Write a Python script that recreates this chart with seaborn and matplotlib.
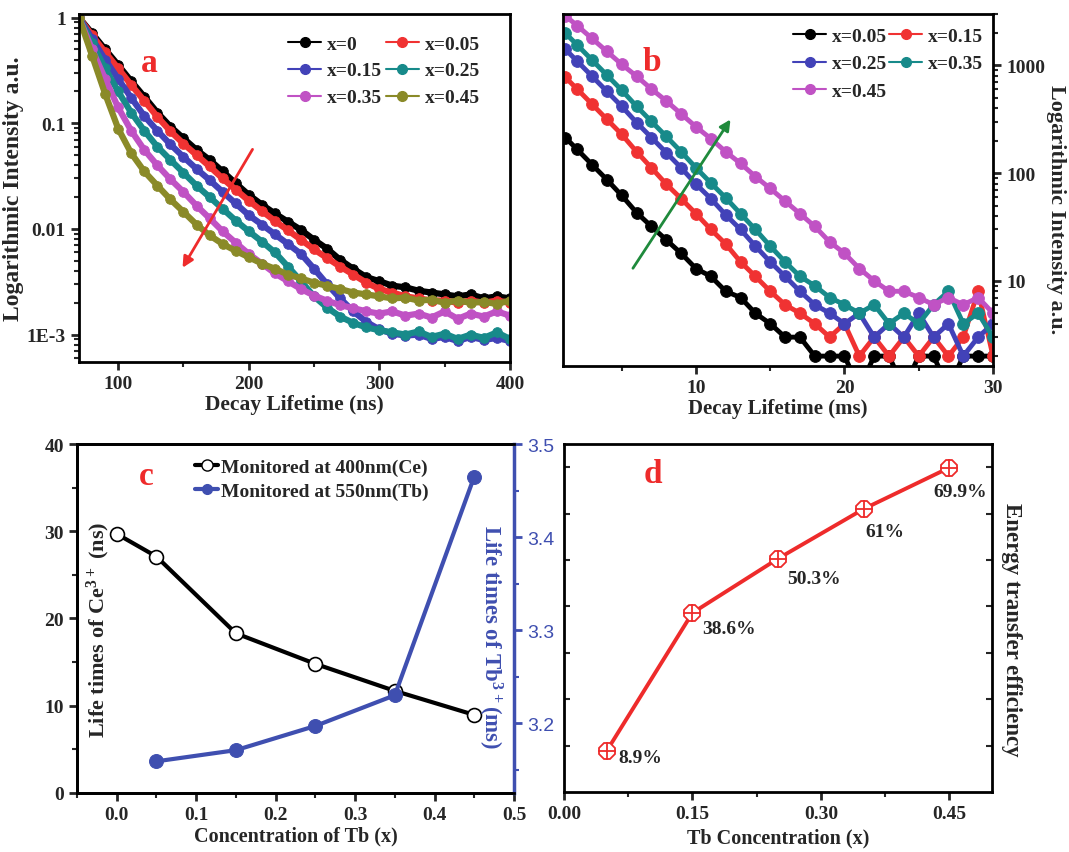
import numpy as np
import pandas as pd
import seaborn as sns
import matplotlib
matplotlib.use('Agg')
import matplotlib.pyplot as plt
from matplotlib.lines import Line2D
from matplotlib.ticker import (FixedLocator, FixedFormatter, MultipleLocator,
                               LogLocator, NullFormatter, FormatStrFormatter)

# ---------------- data ----------------
# (a) Ce3+ decay, ns
t_ns = [70, 80, 90, 100, 110, 120, 130, 140, 150, 160,
        170, 180, 190, 200, 210, 220, 230, 240, 250, 260,
        270, 280, 290, 300, 310, 320, 330, 340, 350, 360,
        370, 380, 390, 400]
a_x0 = [1.0, 0.71, 0.50, 0.355, 0.25, 0.178, 0.126, 0.093, 0.072, 0.056,
        0.045, 0.035, 0.027, 0.021, 0.017, 0.014, 0.0117, 0.0098, 0.0079, 0.0065,
        0.0051, 0.0042, 0.0035, 0.0032, 0.0029, 0.0028, 0.0026, 0.0025, 0.0024, 0.0023,
        0.0024, 0.0022, 0.0023, 0.0022]
a_x005 = [1.0, 0.68, 0.47, 0.33, 0.23, 0.163, 0.115, 0.084, 0.064, 0.05,
          0.039, 0.030, 0.0235, 0.0185, 0.0148, 0.0119, 0.0097, 0.0079, 0.0064, 0.0053,
          0.0044, 0.0037, 0.0031, 0.0027, 0.0025, 0.0023, 0.0022, 0.0021, 0.0021, 0.0020,
          0.0021, 0.0020, 0.0021, 0.0020]
a_x015 = [1.0, 0.63, 0.40, 0.263, 0.174, 0.117, 0.085, 0.063, 0.048, 0.037,
          0.029, 0.0224, 0.0174, 0.0135, 0.011, 0.0089, 0.0072, 0.0058, 0.0042, 0.0030,
          0.0022, 0.00166, 0.00132, 0.00112, 0.00102, 0.00098, 0.0010, 0.00091, 0.00095, 0.00087,
          0.00095, 0.00089, 0.00093, 0.00087]
a_x025 = [1.0, 0.575, 0.33, 0.20, 0.126, 0.085, 0.060, 0.045, 0.034, 0.0257,
          0.020, 0.0155, 0.012, 0.0095, 0.0076, 0.0060, 0.0044, 0.0032, 0.0023, 0.0018,
          0.00148, 0.00129, 0.00117, 0.0011, 0.00105, 0.0010, 0.00107, 0.00095, 0.00102, 0.00091,
          0.0010, 0.00093, 0.00105, 0.00091]
a_x035 = [1.0, 0.50, 0.263, 0.141, 0.085, 0.056, 0.040, 0.0295, 0.0224, 0.0166,
          0.0126, 0.0095, 0.0074, 0.0058, 0.0047, 0.0038, 0.0032, 0.0027, 0.00234, 0.00209,
          0.0019, 0.00178, 0.00166, 0.00158, 0.00166, 0.00151, 0.00158, 0.00145, 0.00166, 0.00141,
          0.00158, 0.00148, 0.00166, 0.00151]
a_x045 = [1.0, 0.437, 0.19, 0.089, 0.052, 0.035, 0.0257, 0.019, 0.0145, 0.011,
          0.0087, 0.0072, 0.0062, 0.0054, 0.0047, 0.0042, 0.0037, 0.0034, 0.0031, 0.0029,
          0.0027, 0.0025, 0.0024, 0.0023, 0.0022, 0.00224, 0.0021, 0.00214, 0.0020, 0.0021,
          0.0020, 0.00204, 0.00195, 0.0021]
labels_a = ['x=0', 'x=0.05', 'x=0.15', 'x=0.25', 'x=0.35', 'x=0.45']

# (b) Tb3+ decay, ms
t_ms = [1.2, 2, 3, 4, 5, 6, 7, 8, 9, 10, 11, 12, 13, 14, 15,
        16, 17, 18, 19, 20, 21, 22, 23, 24, 25, 26, 27, 28, 29, 30]
b_x005 = [214, 166, 120, 87, 62, 43, 32, 24, 18, 13, 11, 8, 7, 5, 4,
          3, 3, 2, 2, 2, 1, 2, 2, 1, 2, 2, 1, 2, 2, 2]
b_x015 = [776, 603, 437, 316, 229, 158, 112, 79, 58, 42, 30, 22, 15, 11, 8,
          6, 5, 4, 3, 4, 2, 3, 2, 3, 2, 3, 2, 3, 8, 2]
b_x025 = [1413, 1096, 794, 575, 417, 295, 214, 155, 112, 79, 58, 41, 30, 21, 15,
          11, 8, 6, 5, 4, 5, 3, 4, 3, 5, 3, 4, 2, 3, 4]
b_x035 = [1995, 1549, 1122, 813, 589, 417, 302, 219, 158, 112, 81, 59, 42, 30, 21,
          15, 11, 9, 7, 6, 5, 6, 4, 5, 4, 6, 8, 4, 5, 3]
b_x045 = [2884, 2344, 1778, 1349, 1023, 794, 603, 468, 355, 269, 209, 158, 123, 93, 72,
          55, 42, 32, 23, 18, 13, 10, 8, 8, 7, 6, 7, 6, 7, 5]
labels_b = ['x=0.05', 'x=0.15', 'x=0.25', 'x=0.35', 'x=0.45']

# (c) lifetimes
conc_ce = [0.0, 0.05, 0.15, 0.25, 0.35, 0.45]
life_ce = [29.7, 27.1, 18.3, 14.8, 11.7, 8.95]
conc_tb = [0.05, 0.15, 0.25, 0.35, 0.45]
life_tb = [3.159, 3.171, 3.197, 3.230, 3.465]

# (d) energy transfer efficiency
conc_d = [0.05, 0.15, 0.25, 0.35, 0.45]
eff_d = [8.9, 38.6, 50.3, 61.0, 69.9]
eff_text = ['8.9%', '38.6%', '50.3%', '61%', '69.9%']

# ---------------- style ----------------
sns.set_style('ticks')
plt.rcParams['font.family'] = ['Liberation Serif', 'DejaVu Serif']
plt.rcParams['font.weight'] = 'bold'
plt.rcParams['axes.labelweight'] = 'bold'
plt.rcParams['font.size'] = 14
plt.rcParams['axes.linewidth'] = 2
plt.rcParams['axes.edgecolor'] = 'black'
plt.rcParams['mathtext.fontset'] = 'custom'
plt.rcParams['mathtext.rm'] = 'Liberation Serif:bold'
plt.rcParams['mathtext.bf'] = 'Liberation Serif:bold'
plt.rcParams['mathtext.default'] = 'bf'

RED = '#ee2b2b'
BLUE = '#3f4fb0'
pal_a = ['black', '#f03232', '#4242b8', '#178a8a', '#c052c4', '#8a8a28']
pal_b = ['black', '#f03232', '#4242b8', '#178a8a', '#c052c4']


def style_ticks(ax):
    ax.tick_params(which='major', length=6, width=2, direction='out', labelsize=14)
    ax.tick_params(which='minor', length=3.5, width=1.5, direction='out')


fig = plt.figure(figsize=(10.69, 8.53), dpi=100)
ax_a = fig.add_axes([0.0739, 0.5744, 0.4031, 0.408])
ax_b = fig.add_axes([0.5267, 0.5698, 0.4022, 0.4126])
ax_c = fig.add_axes([0.072, 0.0692, 0.4088, 0.4091])
ax_d = fig.add_axes([0.5276, 0.0703, 0.4004, 0.408])

# ---------------- (a) ----------------
for vals, col in zip([a_x0, a_x005, a_x015, a_x025, a_x035, a_x045], pal_a):
    sns.lineplot(x=t_ns, y=vals, ax=ax_a, color=col, marker='o', markersize=7,
                 linewidth=4.5, markeredgecolor=col, markeredgewidth=0.6,
                 estimator=None, sort=False, legend=False)
ax_a.set_yscale('log')
ax_a.set_xlim(70, 400)
ax_a.set_ylim(5.5e-4, 1.08)
ax_a.yaxis.set_major_locator(FixedLocator([1e-3, 1e-2, 1e-1, 1]))
ax_a.yaxis.set_major_formatter(FixedFormatter(['1E-3', '0.01', '0.1', '1']))
ax_a.yaxis.set_minor_locator(LogLocator(base=10, subs=np.arange(2, 10)))
ax_a.yaxis.set_minor_formatter(NullFormatter())
ax_a.xaxis.set_major_locator(FixedLocator([100, 200, 300, 400]))
ax_a.xaxis.set_minor_locator(MultipleLocator(50))
style_ticks(ax_a)
ax_a.set_xlabel('Decay Lifetime (ns)', fontsize=15.5, labelpad=1)
ax_a.set_ylabel('Logarithmic Intensity a.u.', fontsize=17, labelpad=2)
h_a = [Line2D([], [], color=c, lw=1.5, marker='o', ms=7) for c in pal_a]
order = [0, 2, 4, 1, 3, 5]
ax_a.legend([h_a[i] for i in order], [labels_a[i] for i in order], ncol=2,
            frameon=False, loc='upper left', bbox_to_anchor=(0.485, 0.94),
            handlelength=1.7, handletextpad=0.3, columnspacing=0.2,
            labelspacing=0.48, borderpad=0, borderaxespad=0, fontsize=14)
ax_a.text(0.162, 0.862, 'a', transform=ax_a.transAxes, color=RED, fontsize=24,
          ha='center', va='center')
ax_a.annotate('', xy=(0.237, 0.264), xytext=(0.406, 0.618),
              xycoords='axes fraction', textcoords='axes fraction',
              arrowprops=dict(arrowstyle='-|>', color=RED, lw=2, mutation_scale=16))

# ---------------- (b) ----------------
for vals, col in zip([b_x005, b_x015, b_x025, b_x035, b_x045], pal_b):
    sns.lineplot(x=t_ms, y=vals, ax=ax_b, color=col, marker='o', markersize=8.5,
                 linewidth=3.5, markeredgecolor=col, markeredgewidth=0.6,
                 estimator=None, sort=False, legend=False)
ax_b.set_yscale('log')
ax_b.set_xlim(1.05, 30)
ax_b.set_ylim(1.62, 3000)
ax_b.yaxis.tick_right()
ax_b.yaxis.set_major_locator(FixedLocator([10, 100, 1000]))
ax_b.yaxis.set_major_formatter(FixedFormatter(['10', '100', '1000']))
ax_b.yaxis.set_minor_locator(LogLocator(base=10, subs=np.arange(2, 10)))
ax_b.yaxis.set_minor_formatter(NullFormatter())
ax_b.xaxis.set_major_locator(FixedLocator([10, 20, 30]))
ax_b.xaxis.set_minor_locator(MultipleLocator(5))
style_ticks(ax_b)
ax_b.set_xlabel('Decay Lifetime (ms)', fontsize=15, labelpad=1)
ax_b.set_ylabel('')
fig.text(0.988, 0.754, 'Logarithmic Intensity a.u.', rotation=270,
         ha='center', va='center', fontsize=16)
h_b = [Line2D([], [], color=c, lw=1.5, marker='o', ms=7) for c in pal_b]
order_b = [0, 2, 4, 1, 3]
ax_b.legend([h_b[i] for i in order_b], [labels_b[i] for i in order_b], ncol=2,
            frameon=False, loc='upper left', bbox_to_anchor=(0.535, 0.962),
            handlelength=1.7, handletextpad=0.3, columnspacing=0.1,
            labelspacing=0.5, borderpad=0, borderaxespad=0, fontsize=14)
ax_b.text(0.207, 0.866, 'b', transform=ax_b.transAxes, color=RED, fontsize=24,
          ha='center', va='center')
ax_b.annotate('', xy=(0.393, 0.707), xytext=(0.159, 0.271),
              xycoords='axes fraction', textcoords='axes fraction',
              arrowprops=dict(arrowstyle='-|>', color='#1f8a3c', lw=2, mutation_scale=16))

# ---------------- (c) ----------------
sns.lineplot(x=conc_ce, y=life_ce, ax=ax_c, color='black', linewidth=3, marker='o',
             markersize=10, markerfacecolor='white', markeredgecolor='black',
             markeredgewidth=1.2, estimator=None, sort=False, legend=False)
ax_c.set_xlim(-0.05, 0.5)
ax_c.set_ylim(0, 40)
ax_c.xaxis.set_major_locator(MultipleLocator(0.1))
ax_c.xaxis.set_major_formatter(FormatStrFormatter('%.1f'))
ax_c.xaxis.set_minor_locator(MultipleLocator(0.05))
ax_c.yaxis.set_major_locator(MultipleLocator(10))
ax_c.yaxis.set_minor_locator(MultipleLocator(5))
style_ticks(ax_c)
ax_c.tick_params(axis='y', which='both', right=False)
ax_c.set_xlabel('Concentration of Tb (x)', fontsize=14.5, labelpad=2)
ax_c.set_ylabel('')
ax_c.text(0.05, 0.47, 'Life times of Ce$^{3+}$ (ns)', transform=ax_c.transAxes,
          rotation=90, ha='center', va='center', fontsize=16)

ax_c2 = ax_c.twinx()
sns.lineplot(x=conc_tb, y=life_tb, ax=ax_c2, color=BLUE, linewidth=3, marker='o',
             markersize=10, markeredgecolor=BLUE, estimator=None, sort=False, legend=False)
ax_c2.set_ylim(3.125, 3.5)
ax_c2.set_yticks([3.2, 3.3, 3.4, 3.5])
ax_c2.set_yticklabels(['3.2', '3.3', '3.4', '3.5'], fontfamily='Liberation Sans',
                      fontweight='normal', color=BLUE, fontsize=14)
ax_c2.yaxis.set_minor_locator(MultipleLocator(0.05))
ax_c2.tick_params(which='major', length=6, width=2, direction='out', colors=BLUE)
ax_c2.tick_params(which='minor', length=3.5, width=1.5, direction='out', colors=BLUE)
ax_c2.spines['right'].set_color(BLUE)
ax_c2.spines['right'].set_linewidth(2.5)
ax_c2.set_ylabel('')
ax_c2.text(0.945, 0.45, 'Life times of Tb$^{3+}$(ms)', transform=ax_c2.transAxes,
           rotation=270, ha='center', va='center', fontsize=16.5, color=BLUE)
h_c = [Line2D([], [], color='black', lw=3, marker='o', ms=8, mfc='white', mec='black'),
       Line2D([], [], color=BLUE, lw=3, marker='o', ms=7, mec=BLUE)]
ax_c2.legend(h_c, ['Monitored at 400nm(Ce)', 'Monitored at 550nm(Tb)'],
             frameon=False, loc='upper left', bbox_to_anchor=(0.27, 0.958),
             handlelength=1.2, handletextpad=0.15, labelspacing=0.3,
             borderpad=0, borderaxespad=0, fontsize=14)
ax_c2.text(0.158, 0.91, 'c', transform=ax_c2.transAxes, color=RED, fontsize=24,
           ha='center', va='center')

# ---------------- (d) ----------------
sns.lineplot(x=conc_d, y=eff_d, ax=ax_d, color=RED, linewidth=2.8, marker='8',
             markersize=13, markerfacecolor='white', markeredgecolor=RED,
             markeredgewidth=1.3, estimator=None, sort=False, legend=False)
ax_d.plot(conc_d, eff_d, ls='none', marker='+', ms=13, mec=RED, mew=1.3)
offsets = [(24, -5), (26, -11), (26, -14), (15, -16), (8, -17)]
for xv, yv, txt, off in zip(conc_d, eff_d, eff_text, offsets):
    ax_d.annotate(txt, (xv, yv), xytext=off, textcoords='offset points',
                  ha='center', va='center', fontsize=14)
ax_d.set_xlim(0, 0.5)
ax_d.set_ylim(0, 75)
ax_d.xaxis.set_major_locator(FixedLocator([0.0, 0.15, 0.30, 0.45]))
ax_d.xaxis.set_major_formatter(FormatStrFormatter('%.2f'))
ax_d.xaxis.set_minor_locator(MultipleLocator(0.075))
ax_d.yaxis.set_major_locator(FixedLocator([10, 20, 30, 40, 50, 60, 70]))
style_ticks(ax_d)
ax_d.tick_params(axis='y', which='both', direction='in', left=True, right=True,
                 labelleft=False, length=4, width=1.5)
ax_d.set_xlabel('Tb Concentration (x)', fontsize=14.5, labelpad=4)
ax_d.set_ylabel('')
ax_d.text(1.045, 0.47, 'Energy transfer efficiency', transform=ax_d.transAxes,
          rotation=270, ha='center', va='center', fontsize=16.5)
ax_d.text(0.208, 0.914, 'd', transform=ax_d.transAxes, color=RED, fontsize=24,
          ha='center', va='center')

fig.savefig('out.png', dpi=100, facecolor='white')
